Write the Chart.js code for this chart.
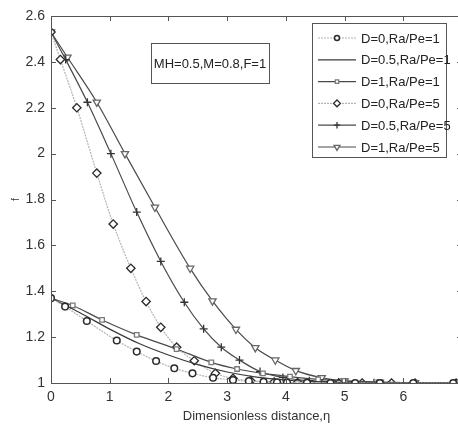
<!DOCTYPE html>
<html>
<head>
<meta charset="utf-8">
<script src="https://cdn.jsdelivr.net/npm/chart.js@4.4.0/dist/chart.umd.min.js"></script>
<style>
  body { margin: 0; background: #fff; overflow: hidden; }
  #wrap { width: 475px; height: 432px; }
</style>
</head>
<body>
<div id="wrap"><canvas id="myChart" width="475" height="432"></canvas></div>
<script>
// series: D=0,Ra/Pe=1 (circles)
const xA = [0, 0.24, 0.61, 1.12, 1.46, 1.79, 2.1, 2.41, 2.76, 3.1, 3.37, 3.62, 3.85, 4.02, 4.36, 4.76, 5.18, 5.6, 6.17, 6.85];
const yA = [1.37, 1.333, 1.27, 1.185, 1.137, 1.096, 1.064, 1.042, 1.023, 1.013, 1.008, 1.005, 1.003, 1.002, 1.001, 1.0, 1.0, 1.0, 1.0, 1.0];
// D=0.5,Ra/Pe=1 (plain line)
const xB = [0, 0.5, 1.0, 1.5, 2.0, 2.5, 3.0, 3.5, 4.0, 4.5, 5.0, 6.0, 7.0];
const yB = [1.37, 1.305, 1.235, 1.172, 1.122, 1.08, 1.048, 1.026, 1.013, 1.006, 1.002, 1.0, 1.0];
// D=1,Ra/Pe=1 (squares)
const xC = [0, 0.37, 0.87, 1.46, 2.14, 2.73, 3.17, 3.61, 4.07, 4.55, 5.0, 5.6, 6.2, 6.9];
const yC = [1.37, 1.338, 1.275, 1.21, 1.148, 1.09, 1.061, 1.042, 1.028, 1.016, 1.009, 1.004, 1.001, 1.0];
// D=0,Ra/Pe=5 (diamonds)
const xD = [0, 0.16, 0.44, 0.78, 1.06, 1.36, 1.62, 1.87, 2.14, 2.44, 2.8, 3.1, 3.4, 3.8, 4.2, 4.55, 4.9, 5.3, 5.8, 6.2, 6.9];
const yD = [2.53, 2.41, 2.2, 1.915, 1.693, 1.5, 1.355, 1.243, 1.156, 1.097, 1.042, 1.02, 1.01, 1.004, 1.002, 1.001, 1.0, 1.0, 1.0, 1.0, 1.0];
// D=0.5,Ra/Pe=5 (plus)
const xE = [0, 0.25, 0.62, 1.02, 1.46, 1.87, 2.27, 2.6, 2.9, 3.21, 3.56, 3.95, 4.4, 4.9, 5.5, 6.2, 6.9];
const yE = [2.53, 2.41, 2.224, 2.0, 1.745, 1.53, 1.352, 1.236, 1.156, 1.1, 1.05, 1.024, 1.01, 1.004, 1.001, 1.0, 1.0];
// D=1,Ra/Pe=5 (triangles)
const xF = [0, 0.28, 0.78, 1.26, 1.77, 2.37, 2.75, 3.15, 3.48, 3.82, 4.17, 4.61, 5.0, 5.6, 6.2, 6.9];
const yF = [2.53, 2.42, 2.224, 2.0, 1.766, 1.5, 1.358, 1.234, 1.154, 1.1, 1.054, 1.023, 1.009, 1.003, 1.001, 1.0];

const LABELS = ['D=0,Ra/Pe=1', 'D=0.5,Ra/Pe=1', 'D=1,Ra/Pe=1', 'D=0,Ra/Pe=5', 'D=0.5,Ra/Pe=5', 'D=1,Ra/Pe=5'];
const X_TICKS = [0, 1, 2, 3, 4, 5, 6, 7];
const Y_TICKS = [1, 1.2, 1.4, 1.6, 1.8, 2, 2.2, 2.4, 2.6];
const NOTE = 'MH=0.5,M=0.8,F=1';

const pts = (xs, ys) => xs.map((x, i) => ({ x: x, y: ys[i] }));
const FONT = 'Liberation Sans, Arial, sans-serif';

const mk = (label, data, o) => Object.assign({
  label: label,
  data: data,
  showLine: true,
  fill: false,
  borderWidth: 1.2,
  cubicInterpolationMode: 'monotone',
  pointBackgroundColor: '#fff',
  pointBorderWidth: 1.3,
}, o);

const datasets = [
  mk(LABELS[0], pts(xA, yA), { borderColor: '#b4b4b4', borderDash: [2, 1], pointStyle: 'circle', pointRadius: 3.3, pointBorderColor: '#2a2a2a', pointBorderWidth: 1.5 }),
  mk(LABELS[1], pts(xB, yB), { borderColor: '#3a3a3a', pointRadius: 0 }),
  mk(LABELS[2], pts(xC, yC), { borderColor: '#4a4a4a', pointStyle: 'rect', pointRadius: 3.2, pointBorderColor: '#7a7a7a' }),
  mk(LABELS[3], pts(xD, yD), { borderColor: '#b4b4b4', borderDash: [2, 1], pointStyle: 'rectRot', pointRadius: 4.2, pointBorderColor: '#2a2a2a', pointBorderWidth: 1.3 }),
  mk(LABELS[4], pts(xE, yE), { borderColor: '#4a4a4a', pointStyle: 'cross', pointRadius: 4, pointBorderColor: '#333' }),
  mk(LABELS[5], pts(xF, yF), { borderColor: '#4a4a4a', pointStyle: 'triangle', pointRotation: 180, pointRadius: 4.2, pointBorderColor: '#666' }),
];

// box, inward ticks, note and legend, like the matlab figure
const frame = {
  id: 'frame',
  afterDraw(chart) {
    const ctx = chart.ctx;
    const a = chart.chartArea;
    const xs = chart.scales.x, ys = chart.scales.y;
    ctx.save();
    ctx.strokeStyle = '#555';
    ctx.lineWidth = 1;
    ctx.strokeRect(a.left + 0.5, a.top + 0.5, a.right - a.left, a.bottom - a.top);
    ctx.beginPath();
    X_TICKS.forEach((v) => {
      const px = Math.round(xs.getPixelForValue(v)) + 0.5;
      ctx.moveTo(px, a.bottom); ctx.lineTo(px, a.bottom - 5);
      ctx.moveTo(px, a.top); ctx.lineTo(px, a.top + 5);
    });
    Y_TICKS.forEach((v) => {
      const py = Math.round(ys.getPixelForValue(v)) + 0.5;
      ctx.moveTo(a.left, py); ctx.lineTo(a.left + 5, py);
      ctx.moveTo(a.right, py); ctx.lineTo(a.right - 5, py);
    });
    ctx.stroke();

    // parameter note
    ctx.fillStyle = '#fff';
    ctx.fillRect(151, 43, 118, 40);
    ctx.strokeStyle = '#555';
    ctx.strokeRect(151.5, 43.5, 118, 40);
    ctx.fillStyle = '#222';
    ctx.font = '13px ' + FONT;
    ctx.textAlign = 'center';
    ctx.textBaseline = 'middle';
    ctx.fillText(NOTE, 210, 64);

    // legend
    ctx.fillStyle = '#fff';
    ctx.fillRect(312, 23, 134, 134);
    ctx.strokeRect(312.5, 23.5, 134, 134);
    ctx.textAlign = 'left';
    chart.data.datasets.forEach((ds, i) => {
      const y = 38 + i * 21.8;
      ctx.save();
      ctx.strokeStyle = ds.borderColor;
      ctx.lineWidth = ds.borderWidth;
      ctx.setLineDash(ds.borderDash || []);
      ctx.beginPath();
      ctx.moveTo(318, y); ctx.lineTo(356, y);
      ctx.stroke();
      ctx.restore();
      if (ds.pointRadius > 0) {
        ctx.save();
        ctx.fillStyle = '#fff';
        ctx.strokeStyle = ds.pointBorderColor;
        ctx.lineWidth = ds.pointBorderWidth;
        Chart.helpers.drawPoint(ctx, {
          pointStyle: ds.pointStyle,
          rotation: ds.pointRotation || 0,
          radius: ds.pointRadius - 0.8,
          borderWidth: ds.pointBorderWidth,
        }, 337, y);
        ctx.restore();
      }
      ctx.fillStyle = '#222';
      ctx.fillText(ds.label, 361, y + 1);
    });
    ctx.restore();
  },
};

const ctx = document.getElementById('myChart').getContext('2d');
const myChart = new Chart(ctx, {
  type: 'scatter',
  data: { datasets: datasets },
  plugins: [frame],
  options: {
    responsive: false,
    animation: false,
    layout: { padding: { top: 16, right: 13, left: 0, bottom: 0 } },
    plugins: { legend: { display: false }, tooltip: { enabled: false } },
    scales: {
      x: {
        type: 'linear',
        min: 0,
        max: 7,
        afterFit: (s) => { s.height = 49; },
        afterBuildTicks: (s) => { s.ticks = X_TICKS.map((v) => ({ value: v })); },
        grid: { display: false, drawTicks: false },
        border: { display: false },
        ticks: { color: '#333', padding: 6, font: { family: FONT, size: 14 } },
        title: {
          display: true,
          text: 'Dimensionless distance,η',
          color: '#333',
          font: { family: FONT, size: 13 },
          padding: { top: 0, bottom: 8 },
        },
      },
      y: {
        min: 1,
        max: 2.6,
        afterFit: (s) => { s.width = 51; },
        afterBuildTicks: (s) => { s.ticks = Y_TICKS.map((v) => ({ value: v })); },
        grid: { display: false, drawTicks: false },
        border: { display: false },
        ticks: {
          color: '#333',
          padding: 6,
          font: { family: FONT, size: 14 },
          callback: (v) => String(Number(v.toFixed(1))),
        },
        title: {
          display: true,
          text: 'f',
          color: '#333',
          font: { family: FONT, size: 10 },
          padding: { top: 10, bottom: 0 },
        },
      },
    },
  },
});
</script>
</body>
</html>
